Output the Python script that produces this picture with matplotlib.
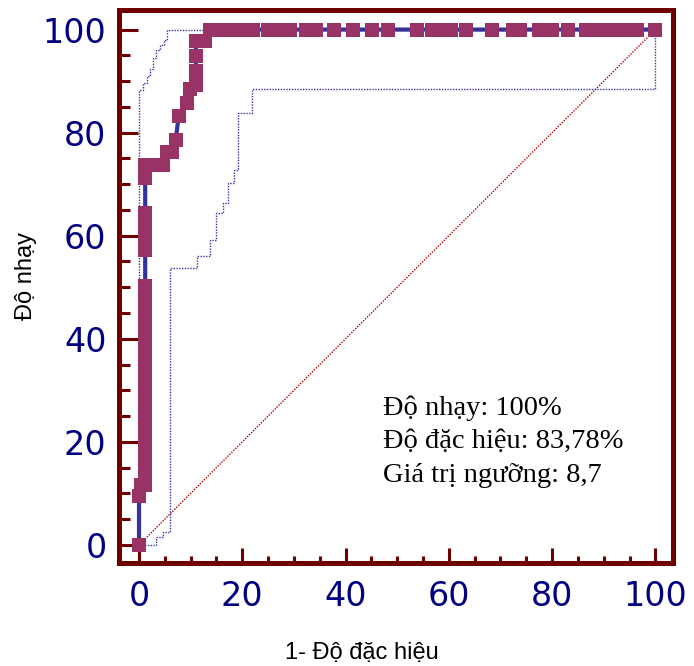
import matplotlib.pyplot as plt
from matplotlib.ticker import MultipleLocator

# Đường ROC (1 - độ đặc hiệu, độ nhạy), tính theo %
fpr = [0.0, 0.0, 0.3, 1.2, 1.2, 1.2, 1.2, 1.2, 1.2, 1.2, 1.2, 1.2, 1.2, 1.2,
       1.2, 1.2, 1.2, 1.2, 1.2, 1.2, 1.2, 1.2, 1.2, 1.2,
       1.2, 1.2, 1.2, 1.2, 1.2, 1.2, 1.2,
       2.5, 3.6, 4.6, 5.5, 6.3, 7.1, 7.7, 9.2, 9.9,
       11.0, 11.0, 11.0, 11.0, 12.7,
       13.8, 15.5, 17.5, 19.5, 21.0, 22.1, 25.0, 27.0, 29.2, 32.3, 34.3, 37.7,
       41.5, 45.2, 48.3, 53.8, 56.7, 59.0, 60.4, 63.4, 68.3, 72.4, 73.8, 77.4,
       80.0, 83.0, 86.6, 89.0, 91.5, 94.0, 96.5, 100.0]
tpr = [0.0, 9.5, 11.6, 11.6, 13.4, 15.5, 17.2, 19.4, 21.3, 23.0, 25.1, 27.0,
       28.8, 30.9, 32.6, 34.7, 36.5, 38.4, 40.3, 42.1, 44.0, 46.2, 48.1, 50.2,
       57.3, 59.6, 62.0, 64.4, 71.2, 72.5, 73.8,
       73.8, 73.8, 73.8, 76.3, 76.3, 78.6, 83.3, 85.8, 88.4,
       89.3, 92.0, 94.8, 97.8, 97.8,
       100, 100, 100, 100, 100, 100, 100, 100, 100, 100, 100, 100,
       100, 100, 100, 100, 100, 100, 100, 100, 100, 100, 100, 100,
       100, 100, 100, 100, 100, 100, 100, 100]

# Khoảng tin cậy 95% (cận trên / cận dưới)
ci_hi_x = [0, 0, 0.8, 0.8, 1.5, 1.5, 2.2, 2.2, 2.8, 2.8, 3.3, 3.3, 4.1, 4.1,
           4.9, 4.9, 5.4, 5.4, 100]
ci_hi_y = [0, 88.3, 88.3, 89.6, 89.6, 91.0, 91.0, 92.4, 92.4, 94.5, 94.5,
           96.0, 96.0, 97.0, 97.0, 98.0, 98.0, 100, 100]
ci_lo_x = [0, 3.3, 3.3, 4.7, 4.7, 6.0, 6.0, 11.2, 11.2, 13.8, 13.8, 14.9,
           14.9, 16.3, 16.3, 17.3, 17.3, 18.3, 18.3, 19.2, 19.2, 21.8, 21.8,
           100, 100]
ci_lo_y = [0, 0, 1.6, 1.6, 2.6, 2.6, 53.7, 53.7, 56.1, 56.1, 59.2, 59.2,
           64.4, 64.4, 66.3, 66.3, 70.2, 70.2, 72.8, 72.8, 83.8, 83.8, 88.5,
           88.5, 100]

ticks = [0, 20, 40, 60, 80, 100]
info = ["Độ nhạy: 100%", "Độ đặc hiệu: 83,78%", "Giá trị ngưỡng: 8,7"]

dark_red = '#6e0000'
navy = '#000080'

fig = plt.figure(figsize=(6.94, 6.66), dpi=100)
ax = fig.add_axes([0.1715, 0.1547, 0.7982, 0.8303])

ax.plot([0, 100], [0, 100], color='#b00000', linestyle=(0, (1, 1)),
        linewidth=1.0, zorder=1)
ax.plot(ci_hi_x, ci_hi_y, color='#3535b0', linestyle=(0, (1, 1)),
        linewidth=1.0, zorder=2)
ax.plot(ci_lo_x, ci_lo_y, color='#3535b0', linestyle=(0, (1, 1)),
        linewidth=1.0, zorder=2)
ax.plot(fpr, tpr, color='#333399', linewidth=3, zorder=3)
ax.plot(fpr, tpr, linestyle='none', marker='s', markersize=10.2,
        markerfacecolor='#993366', markeredgewidth=0, zorder=4)

for i, s in enumerate(info):
    ax.text(47.3, 25.2 - i * 6.45, s, family='Liberation Serif', fontsize=20.5,
            color='black', va='baseline', ha='left')

ax.set_xlim(-3.87, 103.4)
ax.set_ylim(-3.5, 103.8)
ax.set_xticks(ticks)
ax.set_yticks(ticks)
ax.xaxis.set_minor_locator(MultipleLocator(5))
ax.yaxis.set_minor_locator(MultipleLocator(5))

for sp in ax.spines.values():
    sp.set_color(dark_red)
    sp.set_linewidth(3.6)

ax.tick_params(axis='both', which='both', direction='in', color=dark_red,
               width=2.2, labelcolor=navy, labelsize=24)
ax.tick_params(axis='x', which='major', length=11, pad=12)
ax.tick_params(axis='x', which='minor', length=5)
ax.tick_params(axis='y', which='major', length=13.5, pad=9)
ax.tick_params(axis='y', which='minor', length=8)
ax.tick_params(top=False, right=False, which='both')

ax.set_xlabel('1- Độ đặc hiệu', family='Liberation Sans', fontsize=17,
              color='black')
ax.set_ylabel('Độ nhạy', family='Liberation Sans', fontsize=17,
              color='black')
ax.xaxis.set_label_coords(0.439, -0.143)
ax.yaxis.set_label_coords(-0.148, 0.519)

fig.savefig('out.png', dpi=100)
